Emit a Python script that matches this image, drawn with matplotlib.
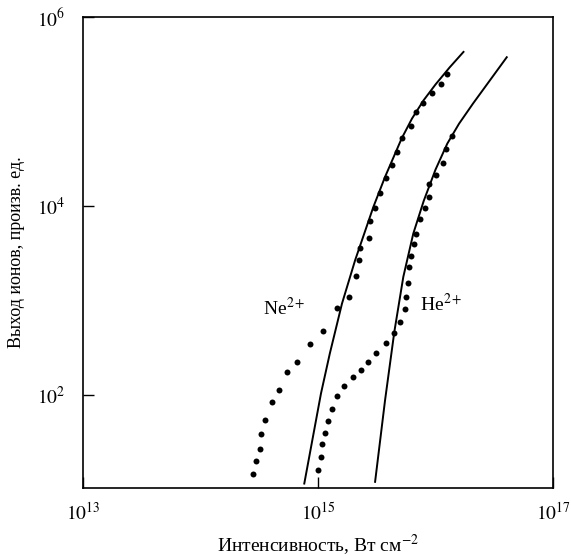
import matplotlib
matplotlib.use("Agg")
import matplotlib.pyplot as plt
import numpy as np

plt.rcParams['font.family'] = ['Liberation Serif', 'DejaVu Serif']
plt.rcParams['mathtext.fontset'] = 'stix'

# Ne2+ experimental points
ne_x = [2.81e14, 2.99e14, 3.18e14, 3.24e14, 3.54e14, 4.02e14, 4.61e14, 5.48e14, 6.67e14, 8.55e14,
        1.10e15, 1.46e15, 1.85e15, 2.09e15, 2.22e15, 2.26e15, 2.73e15, 2.77e15, 3.03e15, 3.37e15,
        3.77e15, 4.24e15, 4.73e15, 5.22e15, 6.18e15, 6.87e15, 7.75e15, 9.28e15, 1.12e16, 1.25e16]
ne_y = [14.7, 20.5, 27.0, 38.9, 55.4, 84.3, 113.5, 177, 228, 350,
        483, 849, 1099, 1841, 2700, 3580, 4645, 6905, 9590, 13830,
        19770, 27480, 37070, 52970, 70150, 98600, 124700, 155600, 196300, 250600]

# He2+ experimental points
he_x = [1.00e15, 1.05e15, 1.09e15, 1.15e15, 1.21e15, 1.32e15, 1.44e15, 1.67e15, 2.00e15, 2.34e15,
        2.65e15, 3.12e15, 3.78e15, 4.43e15, 5.01e15, 5.46e15, 5.56e15, 5.81e15, 5.95e15, 6.22e15,
        6.60e15, 6.80e15, 7.45e15, 8.14e15, 8.88e15, 8.72e15, 1.01e16, 1.15e16, 1.23e16, 1.39e16]
he_y = [16.2, 22.1, 30.3, 40.5, 53.4, 72.0, 97.6, 127, 155, 186,
        224, 284, 362, 460, 594, 811, 1099, 1553, 2265, 3006,
        3966, 5130, 7380, 9690, 12450, 17380, 21630, 28970, 40270, 55210]

# Theoretical curves
ne_line_x = [7.64e14, 1.06e15, 1.26e15, 1.60e15, 2.07e15, 2.96e15, 3.72e15, 5.15e15,
             6.31e15, 7.94e15, 1.00e16, 1.318e16, 1.73e16]
ne_line_y = [11.7, 105, 277, 936, 2690, 9840, 20420, 52000,
             84530, 132400, 193600, 293100, 427600]
he_line_x = [3.06e15, 3.72e15, 4.46e15, 5.32e15, 6.47e15, 7.94e15, 1.00e16, 1.26e16,
             1.585e16, 2.09e16, 4.04e16]
he_line_y = [12.2, 88.9, 469, 1790, 5140, 11400, 24380, 45920,
             74470, 122200, 375800]

x_ticks = [1e13, 1e15, 1e17]
x_ticklabels = [r'$10^{13}$', r'$10^{15}$', r'$10^{17}$']
y_ticks = [1e2, 1e4, 1e6]
y_ticklabels = [r'$10^{2}$', r'$10^{4}$', r'$10^{6}$']

fig = plt.figure(figsize=(5.71, 5.56), dpi=100)
ax = fig.add_axes([0.1454, 0.1223, 0.8231, 0.8471])

ax.plot(ne_line_x, ne_line_y, color='black', lw=1.4, solid_joinstyle='round')
ax.plot(he_line_x, he_line_y, color='black', lw=1.4, solid_joinstyle='round')
ax.plot(ne_x, ne_y, 'o', color='black', ms=4.3, mew=0)
ax.plot(he_x, he_y, 'o', color='black', ms=4.3, mew=0)

ax.set_xscale('log')
ax.set_yscale('log')
ax.set_xlim(1e13, 1e17)
ax.set_ylim(10.5, 1e6)

ax.set_xticks(x_ticks)
ax.set_xticklabels(x_ticklabels)
ax.set_yticks(y_ticks)
ax.set_yticklabels(y_ticklabels)
ax.minorticks_off()
ax.tick_params(axis='both', direction='in', length=8, width=1.0, labelsize=14)
ax.tick_params(axis='x', pad=10)
ax.tick_params(axis='y', pad=13)
for s in ax.spines.values():
    s.set_linewidth(1.2)

ax.text(3.4e14, 836, r'Ne$^{2+}$', fontsize=14, va='center', ha='left')
ax.text(7.38e15, 920, r'He$^{2+}$', fontsize=14, va='center', ha='left')

ax.set_xlabel(r'Интенсивность, Вт см$^{-2}$', fontsize=14, labelpad=6)
ax.set_ylabel('Выход ионов, произв. ед.', fontsize=13, labelpad=8)

fig.savefig('out.png', dpi=100)
